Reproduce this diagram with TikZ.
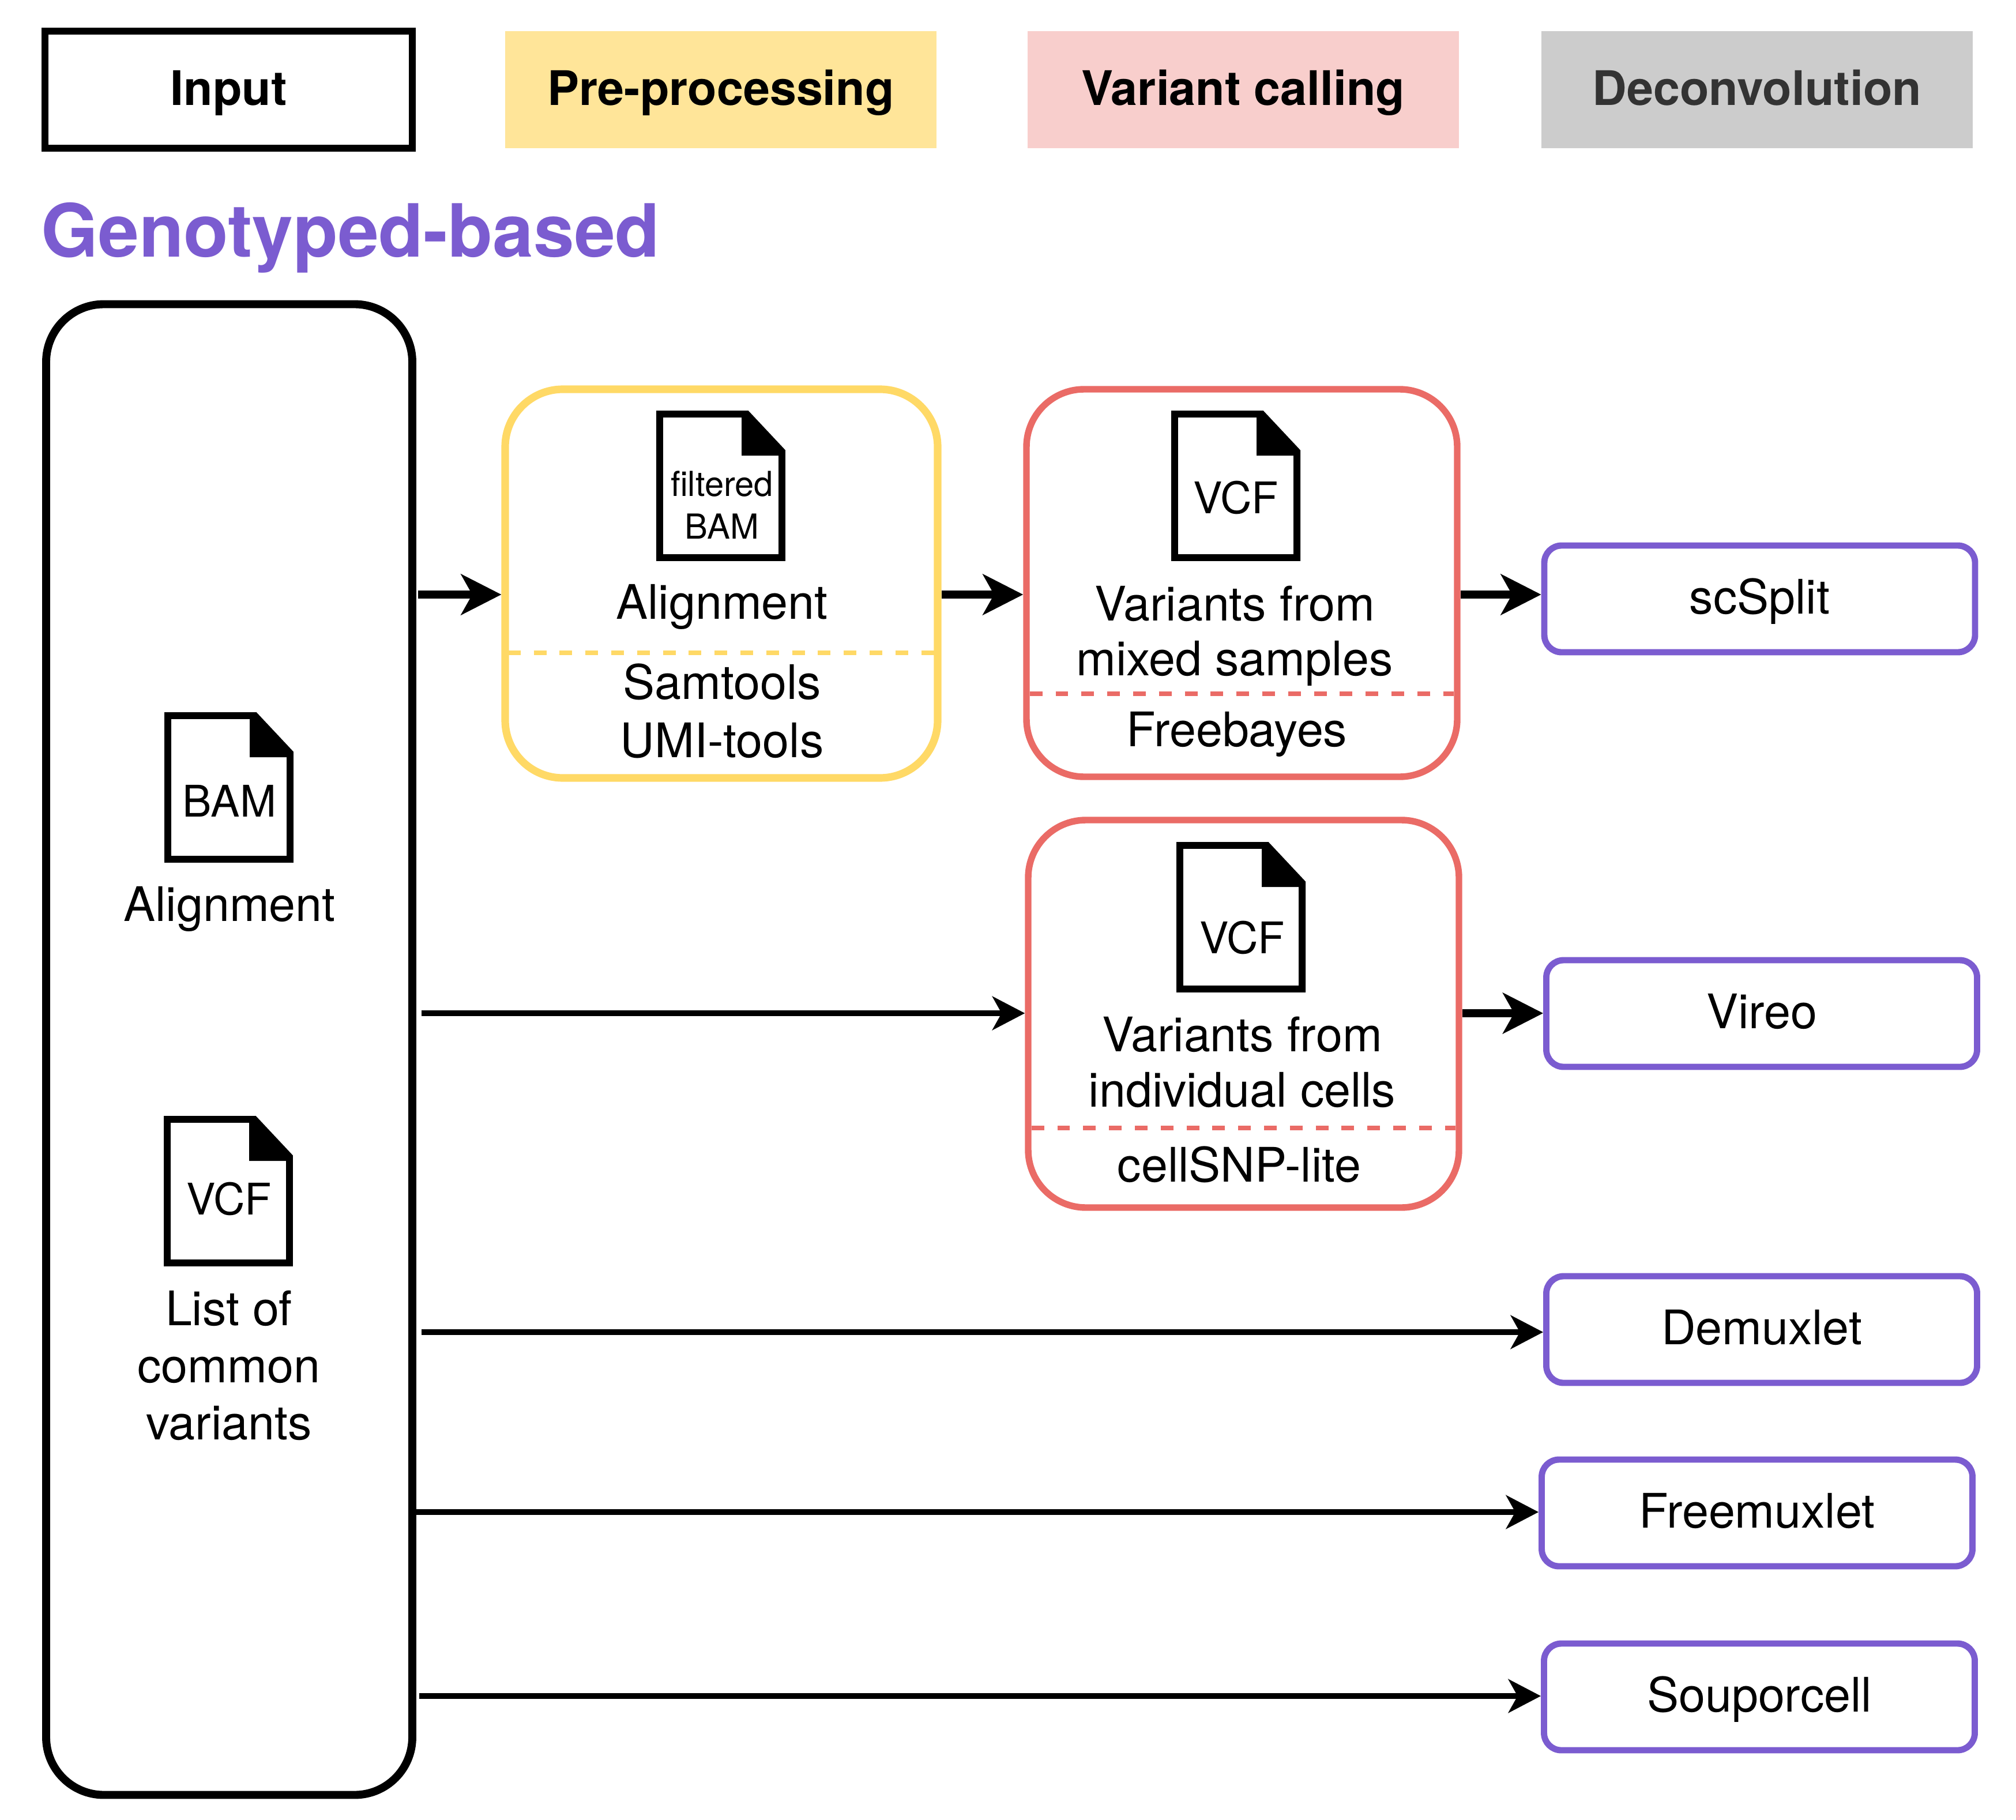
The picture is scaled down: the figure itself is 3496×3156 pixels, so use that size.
\documentclass[tikz,border=0pt]{standalone}
\usepackage{fontspec}
\setmainfont{TeX Gyre Heros}
\usetikzlibrary{arrows.meta}
\definecolor{purp}{HTML}{7B5CD0}
\definecolor{yel}{HTML}{FFD966}
\definecolor{yelfill}{HTML}{FFE599}
\definecolor{redl}{HTML}{EA6B66}
\definecolor{redfill}{HTML}{F8CECC}
\definecolor{grayfill}{HTML}{CCCCCC}
\definecolor{graytext}{HTML}{333333}
\newcommand{\fileicon}[2]{%
  \begin{scope}[shift={(#1,#2)}]
    \draw[iconline,fill=white] (0,0) -- (151,0) -- (212,65) -- (212,249) -- (0,249) -- cycle;
    \fill[black] (142,0) -- (151,0) -- (212,65) -- (212,72) -- (142,72) -- cycle;
  \end{scope}}
\tikzset{
  x=0.02cm, y=-0.02cm,
  iconline/.style={draw=black,line width=6.8pt},
  every node/.style={inner sep=0pt,font=\fontsize{47}{56}\selectfont},
  headbox/.style={minimum width=748*0.02cm,minimum height=203*0.02cm,text height=35.5pt,text depth=5pt,font=\fontsize{47}{56}\selectfont\bfseries},
  panel/.style={draw,line width=6.5pt,rounded corners=2cm,fill=white},
  method/.style={draw=purp,line width=6.2pt,rounded corners=0.6cm,fill=white,minimum width=747*0.02cm,minimum height=185*0.02cm,text height=35pt,text depth=5pt},
  lab/.style={anchor=base,align=center},
  small/.style={anchor=base,align=center,font=\fontsize{34}{42}\selectfont},
  icontext/.style={anchor=base,font=\fontsize{43}{50}\selectfont},
  sep/.style={line width=4.5pt,dash pattern=on 12.5pt off 13pt,shorten <=6.5pt,shorten >=6.5pt},
  thick arrow/.style={draw=black,line width=7.9pt,-{Stealth[length=39.7pt,width=40pt,inset=11pt]}},
  thin arrow/.style={draw=black,line width=6.2pt,-{Stealth[length=32pt,width=33pt,inset=9pt]}},
}
\begin{document}
\begin{tikzpicture}
\useasboundingbox (0,0) rectangle (3496,3156);
\fill[white] (0,0) rectangle (3496,3156);

% legend
\node[headbox,draw=black,line width=6.5pt,minimum width=637*0.02cm] (input) at (396.5,155.5) {Input};
\node[headbox,fill=yelfill] (pre) at (1250,155.5) {Pre-processing};
\node[headbox,fill=redfill] (var) at (2156,155.5) {Variant calling};
\node[headbox,fill=grayfill,text=graytext] (dec) at (3047,155.5) {Deconvolution};
\node[anchor=base west,text=purp,font=\fontsize{72.4}{80}\selectfont\bfseries] (title) at (71,446) {Genotyped-based};

% input panel
\node[panel,draw=black,line width=7.9pt,minimum width=635*0.02cm,minimum height=2585*0.02cm] (big) at (397.5,1820) {};
\fileicon{291}{1241}
\node[icontext] (bam) at (398,1416) {BAM};
\node[lab] (aln) at (398,1597) {Alignment};
\fileicon{290}{1941}
\node[icontext] (vcf) at (397,2106) {VCF};
\node[lab,font=\fontsize{47}{56.3}\selectfont] (common) at (397,2496) {List of\\common\\variants};

% pre-processing panel
\node[panel,draw=yel,line width=7.5pt,minimum width=750*0.02cm,minimum height=674*0.02cm] (yp) at (1251,1012) {};
\fileicon{1144}{718}
\node[small] (fb) at (1252,934) {filtered\\BAM};
\node[lab] (yaln) at (1252,1073) {Alignment};
\coordinate (yd) at (0,1132);
\draw[sep,draw=yel] (yp.west |- yd) -- (yp.east |- yd);
\node[lab,font=\fontsize{47}{57.3}\selectfont] (tools) at (1252,1313) {Samtools\\UMI-tools};

% variant panel 1
\node[panel,draw=redl,line width=6.5pt,minimum width=747*0.02cm,minimum height=672*0.02cm] (r1) at (2153.5,1011) {};
\fileicon{2037}{718}
\node[icontext] (vcf1) at (2143,890) {VCF};
\node[lab,font=\fontsize{47}{54}\selectfont] (mix) at (2141,1171) {Variants from\\mixed samples};
\coordinate (r1d) at (0,1203);
\draw[sep,draw=redl] (r1.west |- r1d) -- (r1.east |- r1d);
\node[lab] (free) at (2145,1294) {Freebayes};

% variant panel 2
\node[panel,draw=redl,line width=6.5pt,minimum width=747*0.02cm,minimum height=672*0.02cm] (r2) at (2156.5,1758) {};
\fileicon{2046}{1466}
\node[icontext] (vcf2) at (2154,1653) {VCF};
\node[lab,font=\fontsize{47}{54.4}\selectfont] (ind) at (2154,1919) {Variants from\\individual cells};
\coordinate (r2d) at (0,1956);
\draw[sep,draw=redl] (r2.west |- r2d) -- (r2.east |- r2d);
\node[lab] (cs) at (2149,2049) {cellSNP-lite};

% methods
\node[method] (sc) at (3051.5,1038.5) {scSplit};
\node[method] (vi) at (3055,1757.5) {Vireo};
\node[method] (de) at (3055,2305.5) {Demuxlet};
\node[method] (fm) at (3047,2623.5) {Freemuxlet};
\node[method] (so) at (3051,2942.5) {Souporcell};

% connector rows
\coordinate (ra) at (0,1031);
\coordinate (rb) at (0,1757);
\coordinate (rc) at (0,2310);
\coordinate (rd) at (0,2622);
\coordinate (re) at (0,2941);

\draw[thick arrow,shorten <=2pt] (big.east |- ra) -- (yp.west |- ra);
\draw[thick arrow] (yp.east |- ra) -- (r1.west |- ra);
\draw[thick arrow] (r1.east |- ra) -- (sc.west |- ra);
\draw[thin arrow,shorten <=5pt] (big.east |- rb) -- (r2.west |- rb);
\draw[thick arrow] (r2.east |- rb) -- (vi.west |- rb);
\draw[thin arrow,shorten <=5pt] (big.east |- rc) -- (de.west |- rc);
\draw[thin arrow] (big.east |- rd) -- (fm.west |- rd);
\draw[thin arrow,shorten <=3pt] (big.east |- re) -- (so.west |- re);
\end{tikzpicture}
\end{document}
